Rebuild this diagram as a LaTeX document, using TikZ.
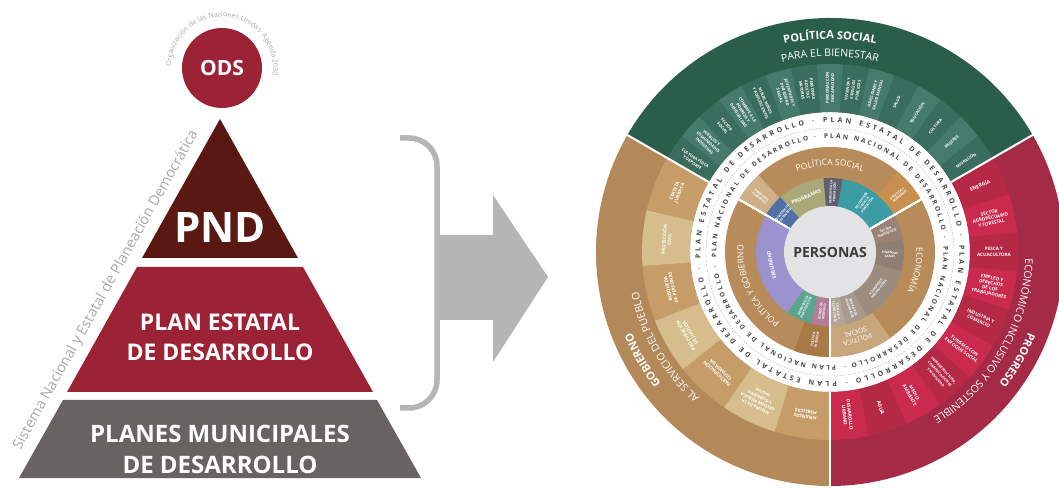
\documentclass[tikz,border=0pt]{standalone}
\usepackage{fontspec}
\setmainfont{Open Sans}
\usetikzlibrary{decorations.text}
\definecolor{vino}{HTML}{9C2236}
\definecolor{vinoosc}{HTML}{5A1813}
\definecolor{grispir}{HTML}{686363}
\definecolor{grisfl}{HTML}{B5B5B5}
\definecolor{grisleg}{HTML}{A8A8A8}
\definecolor{verde}{HTML}{2B5E4A}
\definecolor{verdeA}{HTML}{3A6D5D}
\definecolor{verdeB}{HTML}{467A6B}
\definecolor{ocre}{HTML}{B4895A}
\definecolor{ocreA}{HTML}{C69D68}
\definecolor{ocreB}{HTML}{D6BE8C}
\definecolor{rojo}{HTML}{A52A45}
\definecolor{rojoA}{HTML}{B52846}
\definecolor{rojoB}{HTML}{CA2A4E}
\definecolor{canela}{HTML}{B88B5B}
\definecolor{centro}{HTML}{E3E3E5}
\definecolor{anillotxt}{HTML}{474747}
\definecolor{personastxt}{HTML}{3B3B3B}
\definecolor{azul}{HTML}{4F71A6}
\definecolor{olivo}{HTML}{A8A878}
\definecolor{pizarra}{HTML}{5F5F70}
\definecolor{turq}{HTML}{3B9CA3}
\definecolor{topoA}{HTML}{9A8374}
\definecolor{topoB}{HTML}{8E7E73}
\definecolor{topoC}{HTML}{9C8C80}
\definecolor{topoD}{HTML}{A89A8F}
\definecolor{topoE}{HTML}{B3A698}
\definecolor{lila}{HTML}{9C92CE}
\definecolor{verdem}{HTML}{5BA58E}
\definecolor{malva}{HTML}{B47C98}
\definecolor{beigeH}{HTML}{D0B089}
\definecolor{naranja}{HTML}{C8904E}
\definecolor{cafe}{HTML}{A87A48}
\definecolor{beigeS}{HTML}{C6A67A}
\newcommand{\banda}[5]{\fill[#1] (#2:#4) arc[start angle=#2,end angle=#3,radius=#4] -- (#3:#5) arc[start angle=#3,end angle=#2,radius=#5] -- cycle;}
\newcommand{\arco}[5]{\path[decorate,decoration={text along path,text align=center,text color=white,text={|#4|#5}}] (#2:#1) arc[start angle=#2,end angle=#3,radius=#1];}
\begin{document}
\begin{tikzpicture}[x=1pt,y=1pt,line join=round,
	titulo/.style={text=white,align=center},
	item/.style={text=white,font=\fontsize{#1}{5.3}\selectfont\bfseries,align=center,inner sep=0pt},
	item/.default=4.6,
	mini/.style={text=white,font=\fontsize{3.2}{3.7}\selectfont\bfseries,align=center,inner sep=0pt}]
	\useasboundingbox (0,0) rectangle (1059,487);
	\fill[vinoosc] (142,229) -- (298,229) -- (220,368) -- cycle;
	\fill[vino] (137,220) -- (303,220) -- (373,95) -- (67,95) -- cycle;
	\fill[grispir] (63,87) -- (377,87) -- (421,9) -- (19,9) -- cycle;
	\node[titulo,font=\fontsize{42}{42}\selectfont\bfseries] (pnd) at (220,259) {PND};
	\node[titulo,font=\fontsize{23}{30}\selectfont\bfseries] (ped) at (220,150) {PLAN ESTATAL\\DE DESARROLLO};
	\node[titulo,font=\fontsize{24}{31}\selectfont\bfseries] (pmd) at (220,38) {PLANES MUNICIPALES\\DE DESARROLLO};
	\node[circle,fill=vino,minimum size=80,inner sep=0pt,titulo,font=\fontsize{21}{21}\selectfont\bfseries] (ods) at (222,419) {ODS};
	\path[decorate,decoration={text along path,text align=center,text color=grisleg,text={|\fontsize{7}{8}\selectfont|Organización de las Naciones Unidas- Agenda 2030}}] (ods.center) ++(182:51) arc[start angle=182,end angle=-12,radius=51];
	\node[text=grisleg,font=\fontsize{14.5}{15}\selectfont,rotate=60.75] (sist) at (106,197) {Sistema Nacional y Estatal de Planeación Democrática};
	\draw[grisfl,line width=5.5pt,line cap=butt] (400,349) -- (409,349) arc[start angle=90,end angle=0,radius=28] -- (437,107) arc[start angle=0,end angle=-90,radius=28] -- (400,79);
	\fill[grisfl] (437,252) -- (493,252) -- (493,292) -- (548,210) -- (493,125) -- (493,167) -- (437,167) -- cycle;
	\begin{scope}[shift={(830,235)}]
		\banda{verde}{30}{150}{140}{234}
		\banda{ocre}{150}{270}{140}{234}
		\banda{rojo}{-90}{30}{140}{234}
		\foreach \c/\t [count=\i] in {verdeA/{CULTURA FÍSICA\\Y DEPORTE},verdeB/{PUEBLOS Y\\COMUNIDADES\\INDÍGENAS},verdeA/{SECTOR\\SOCIAL},verdeB/{COMBATE A LA\\POBREZA Y\\DESIGUALDAD},verdeA/{NIÑAS, NIÑOS\\Y ADOLESCENTES},verdeB/{JUVENTUDES Y\\DIVERSIDAD\\SEXUAL},verdeA/{PERSONAS\\ADULTAS\\MAYORES},verdeB/{PERSONAS CON\\DISCAPACIDAD},verdeA/{VIVIENDA Y\\ESPACIOS\\PÚBLICOS},verdeB/{ADICCIONES Y\\SALUD MENTAL},verdeA/{SALUD},verdeB/{EDUCACIÓN},verdeA/{CULTURA},verdeB/{MUJERES},verdeA/{MIGRACIÓN}}{
			\pgfmathsetmacro\ai{150-8*(\i-1)}
			\pgfmathsetmacro\af{150-8*\i}
			\pgfmathsetmacro\am{154-8*\i}
			\pgfmathsetmacro\rot{\am>95 ? \am-180 : \am}
			\banda{\c}{\ai}{\af}{140}{188}
			\node[item=4,rotate=\rot] (v\i) at (\am:164) {\t};
		}
		\foreach \c/\f/\t [count=\i] in {rojoA/5/{ENERGÍA},rojoB/4.6/{SECTOR\\AGROPECUARIO\\Y FORESTAL},rojoA/4.6/{PESCA Y\\ACUACULTURA},rojoB/4.6/{EMPLEO Y\\DERECHOS\\DE LOS\\TRABAJADORES},rojoA/4.6/{INDUSTRIA Y\\COMERCIO},rojoB/4.6/{TURISMO CON\\ENFOQUE SOCIAL},rojoA/3.6/{INFRAESTRUCTURA,\\COMUNICACIONES\\Y MOVILIDAD},rojoB/4.6/{MEDIO\\AMBIENTE},rojoA/5/{AGUA},rojoB/4.6/{DESARROLLO\\URBANO}}{
			\pgfmathsetmacro\ai{30-12*(\i-1)}
			\pgfmathsetmacro\af{30-12*\i}
			\pgfmathsetmacro\am{36-12*\i}
			\banda{\c}{\ai}{\af}{140}{188}
			\node[item=\f,rotate=\am] (r\i) at (\am:164) {\t};
		}
		\foreach \c/\f/\t [count=\i] in {ocreA/4.6/{FINANZAS\\PÚBLICAS},ocreB/4.2/{MEJORA DE LA\\GESTIÓN PÚBLICA\\Y GOBIERNO\\DIGITAL},ocreA/4.6/{PARTICIPACIÓN\\CIUDADANA},ocreB/4.6/{PROCURACIÓN\\DE JUSTICIA},ocreA/4.6/{BÚSQUEDA\\DE PERSONAS},ocreB/4.6/{PROTECCIÓN\\CIVIL},ocreA/4.6/{CERTEZA\\JURÍDICA}}{
			\pgfmathsetmacro\ai{270-120/7*(\i-1)}
			\pgfmathsetmacro\af{270-120/7*\i}
			\pgfmathsetmacro\am{270-120/7*(\i-0.5)}
			\banda{\c}{\ai}{\af}{140}{188}
			\node[item=\f,rotate=\am-90] (o\i) at (\am:164) {\t};
		}
		\foreach \a in {30,150,270}
		\draw[white,line width=2pt] (\a:140) -- (\a:235);
		\arco{213}{150}{30}{\fontsize{11}{12}\selectfont\bfseries}{POLÍTICA SOCIAL}
		\arco{195.5}{150}{30}{\fontsize{10.5}{12}\selectfont}{PARA EL BIENESTAR}
		\arco{214}{270}{150}{\fontsize{11}{12}\selectfont\bfseries}{GOBIERNO}
		\arco{195.5}{270}{150}{\fontsize{10.5}{12}\selectfont}{AL SERVICIO DEL PUEBLO}
		\arco{214}{30}{-90}{\fontsize{11}{12}\selectfont\bfseries}{PROGRESO}
		\arco{195.5}{30}{-90}{\fontsize{10.5}{12}\selectfont}{ECONÓMICO INCLUSIVO Y SOSTENIBLE}
		\draw[gray!70,line width=0.4pt,dash pattern=on 1.5pt off 1.5pt] (0,0) circle[radius=124];
		\foreach \a in {93,3,-87,-177}{
			\path[decorate,decoration={text along path,text align=fit to path,text color=anillotxt,text={|\fontsize{7}{8}\selectfont\bfseries|PLAN ESTATAL DE DESARROLLO ·}}] (\a:129.5) arc[start angle=\a,end angle=\a-86,radius=129.5];
			\path[decorate,decoration={text along path,text align=fit to path,text color=anillotxt,text={|\fontsize{6.5}{8}\selectfont\bfseries|PLAN NACIONAL DE DESARROLLO ·}}] (\a:113.5) arc[start angle=\a,end angle=\a-86,radius=113.5];
		}
		\fill[canela] (0,0) circle[radius=105];
		\banda{beigeH}{133}{150}{74}{105}
		\banda{naranja}{30}{50}{74}{105}
		\banda{cafe}{250}{270}{74}{105}
		\banda{beigeS}{-55}{-90}{74}{105}
		\foreach \c/\ai/\af in {azul/150/132,olivo/132/95,pizarra/95/80,turq/80/30,topoA/30/10,topoB/10/-15,topoC/-15/-60,topoD/-60/-78,topoE/-78/-90,lila/150/235,verdem/235/255,malva/255/270}
		\banda{\c}{\ai}{\af}{46}{74}
		\foreach \a in {30,150,270}
		\draw[white,line width=1.5pt] (\a:46) -- (\a:105);
		\node[circle,fill=centro,minimum size=92,inner sep=0pt,text=personastxt,font=\fontsize{14}{14}\selectfont\bfseries] (personas) at (0,0) {PERSONAS};
		\arco{86.5}{150}{30}{\fontsize{8.5}{9}\selectfont}{POLÍTICA SOCIAL}
		\arco{86.5}{18}{-42}{\fontsize{8.5}{9}\selectfont}{ECONOMÍA}
		\arco{86.5}{265}{145}{\fontsize{8.5}{9}\selectfont}{POLÍTICA Y GOBIERNO}
		\node[mini,rotate=-38.5] (dh) at (141.5:89) {DERECHOS\\HUMANOS};
		\node[mini,rotate=40] (pg) at (40:89) {POLÍTICA Y\\GOBIERNO};
		\node[mini,rotate=80] (pe) at (260:89) {POLÍTICA\\EXTERIOR};
		\node[titulo,font=\fontsize{7}{7.5}\selectfont,rotate=-162.5] (ps) at (-72.5:89) {POLÍTICA\\SOCIAL};
		\node[mini,rotate=51] (ds) at (141:60) {DESARROLLO\\SOSTENIBLE};
		\node[titulo,font=\fontsize{5}{6}\selectfont\bfseries,rotate=23.5] (prog) at (113.5:60) {PROGRAMAS};
		\node[mini,rotate=87.5] (edu) at (87.5:60) {DERECHO A LA\\EDUCACIÓN};
		\node[mini,rotate=55] (sal) at (55:60) {SALUD PARA\\TODA LA\\POBLACIÓN};
		\node[mini,rotate=20] (se) at (20:60) {SECTOR\\ENERGÉTICO};
		\node[mini,rotate=-2.5] (fs) at (-2.5:60) {FINANZAS\\SANAS};
		\node[mini,rotate=-127.5] (re) at (-37.5:60) {REACTIVACIÓN\\ECONÓMICA};
		\node[mini,rotate=-69] (pr) at (-69:60) {PROYECTOS\\REGIONALES};
		\node[mini,rotate=-84] (ct) at (-84:60) {CIENCIA Y\\TECNOLOGÍA};
		\node[titulo,font=\fontsize{5}{6}\selectfont\bfseries,rotate=102.5] (seg) at (192.5:60) {SEGURIDAD};
		\node[mini,rotate=65] (dp) at (245:60) {DEMOCRACIA\\PARTICIPATIVA};
		\node[mini,rotate=82.5] (edd) at (262.5:60) {ESTADO DE\\DERECHO};
	\end{scope}
\end{tikzpicture}
\end{document}
